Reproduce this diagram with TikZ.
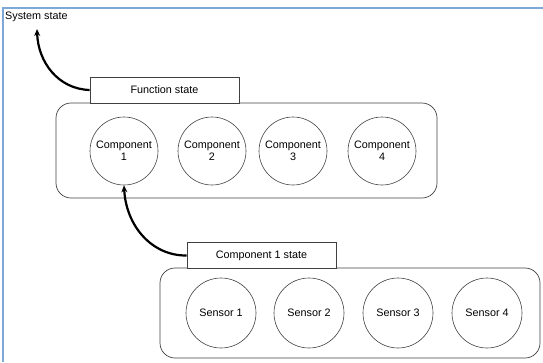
\documentclass[tikz,border=0pt]{standalone}
\usepackage{fontspec}
\setmainfont{Liberation Sans}
\usetikzlibrary{arrows.meta}
\definecolor{frameblue}{HTML}{7EA8D8}
\definecolor{edge}{HTML}{404040}
\tikzset{
  lbl/.style={font=\fontsize{10.8}{12}\selectfont, text=black},
  statebox/.style={draw=edge, line width=0.7pt, fill=white, minimum width=149pt, minimum height=26pt, inner sep=0pt, lbl},
  group/.style={draw=edge, line width=0.7pt, rounded corners=15pt, inner sep=0pt},
  unit/.style={draw=edge, line width=0.6pt, circle, minimum size=68pt, inner sep=0pt, align=center, lbl},
  flow/.style={-{Stealth[length=7pt,width=6pt]}, line width=2.2pt, black},
}
\begin{document}
\begin{tikzpicture}[x=1pt,y=-1pt]
\useasboundingbox (0,0) rectangle (543,362);
% outer frame
\draw[frameblue, line width=2pt] (3,362) -- (3,8) -- (543,8);
\node[lbl, anchor=north west, inner sep=0pt] (sys) at (5,12) {System state};

% function level
\node[group, minimum width=381pt, minimum height=95pt] (fgroup) at (246.5,150.5) {};
\node[statebox] (fstate) at (164.5,90) {Function state};
\node[unit] (c1) at (124,151) {Component\\1};
\node[unit] (c2) at (212,151) {Component\\2};
\node[unit] (c3) at (293,151) {Component\\3};
\node[unit] (c4) at (382,151) {Component\\4};

% component level
\node[group, minimum width=380pt, minimum height=90pt] (sgroup) at (350,313) {};
\node[statebox] (cstate) at (261.5,255.5) {Component 1 state};
\node[unit, minimum size=70pt] (s1) at (221,313) {Sensor 1};
\node[unit, minimum size=70pt] (s2) at (309,313) {Sensor 2};
\node[unit, minimum size=70pt] (s3) at (398,313) {Sensor 3};
\node[unit, minimum size=70pt] (s4) at (487,313) {Sensor 4};

% state propagation arrows
\coordinate (systip) at (37,29);
\draw[flow] (fstate.west) .. controls (58,89) and (38,62) .. (systip);
\draw[flow] (cstate.west) .. controls (152,256) and (126,226) .. (c1.south);
\end{tikzpicture}
\end{document}
